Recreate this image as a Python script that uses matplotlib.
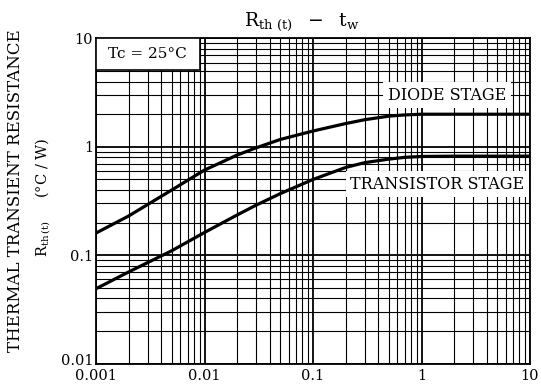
import matplotlib
matplotlib.use("Agg")
import matplotlib.pyplot as plt
from matplotlib.patches import Rectangle
from matplotlib.transforms import ScaledTranslation
from matplotlib.ticker import LogLocator, NullFormatter, FixedLocator, FixedFormatter

plt.rcParams["font.family"] = "DejaVu Serif"
plt.rcParams["mathtext.fontset"] = "dejavuserif"

# pulse width tw (s) and thermal transient resistance (°C/W)
tw = [0.001, 0.002, 0.005, 0.01, 0.02, 0.03, 0.05, 0.1, 0.2, 0.3, 0.5, 0.7, 1, 2, 5, 10]
rth_diode = [0.16, 0.23, 0.40, 0.61, 0.84, 0.98, 1.17, 1.40, 1.64, 1.78, 1.92, 1.97, 2.0, 2.0, 2.0, 2.0]
rth_transistor = [0.049, 0.07, 0.11, 0.162, 0.235, 0.29, 0.37, 0.50, 0.645, 0.715, 0.77, 0.80, 0.815, 0.82, 0.82, 0.82]

xticks = [0.001, 0.01, 0.1, 1, 10]
xlabels = ["0.001", "0.01", "0.1", "1", "10"]
yticks = [0.01, 0.1, 1, 10]
ylabels = ["0.01", "0.1", "1", "10"]

fig = plt.figure(figsize=(5.41, 3.89), dpi=100)
ax = fig.add_axes([96 / 541, 1 - 363.5 / 389, 434 / 541, 325 / 389])
ax.set_xscale("log")
ax.set_yscale("log")
ax.set_xlim(0.001, 10)
ax.set_ylim(0.01, 10)

ax.xaxis.set_major_locator(FixedLocator(xticks))
ax.xaxis.set_major_formatter(FixedFormatter(xlabels))
ax.yaxis.set_major_locator(FixedLocator(yticks))
ax.yaxis.set_major_formatter(FixedFormatter(ylabels))
for a in (ax.xaxis, ax.yaxis):
    a.set_minor_locator(LogLocator(base=10, subs=range(2, 10)))
    a.set_minor_formatter(NullFormatter())
ax.tick_params(which="both", length=0, labelsize=10.5)
ax.tick_params(axis="x", pad=4)
ax.tick_params(axis="y", pad=2)
ax.grid(which="major", color="black", lw=1.3)
ax.grid(which="minor", color="black", lw=0.8)
for s in ax.spines.values():
    s.set_linewidth(1.3)

# lift the bottom y label a little so it clears the 0.001 label
fig.canvas.draw()
low = ax.get_yticklabels()[0]
low.set_transform(low.get_transform() + ScaledTranslation(0, 3 / 72, fig.dpi_scale_trans))

ax.plot(tw, rth_diode, color="black", lw=2.3, zorder=3)
ax.plot(tw, rth_transistor, color="black", lw=2.3, zorder=3)

ax.add_patch(Rectangle((0, 0.903), 0.24, 0.097, transform=ax.transAxes,
                       facecolor="white", edgecolor="black", lw=1.2, zorder=4))
ax.text(0.118, 0.952, "Tc = 25°C", transform=ax.transAxes, ha="center", va="center",
        fontsize=11, zorder=5)
ax.text(0.808, 0.826, "DIODE STAGE", transform=ax.transAxes, ha="center", va="center",
        fontsize=11.5, zorder=5,
        bbox=dict(facecolor="white", edgecolor="none", pad=3.5))
ax.text(0.787, 0.552, "TRANSISTOR STAGE", transform=ax.transAxes, ha="center", va="center",
        fontsize=11.5, zorder=5,
        bbox=dict(facecolor="white", edgecolor="none", pad=3.5))

fig.text(302 / 541, 1 - 22 / 389, r"$\mathrm{R_{th\ (t)}}\ \ -\ \ \mathrm{t_w}$",
         ha="center", va="center", fontsize=13.5)
fig.text(16 / 541, 1 - 191 / 389, "THERMAL TRANSIENT RESISTANCE", rotation=90,
         ha="center", va="center", fontsize=12)
fig.text(43 / 541, 1 - 197 / 389, r"$\mathrm{R_{th\,(t)}}$     (°C / W)", rotation=90,
         ha="center", va="center", fontsize=10.5)

fig.savefig("out.png", dpi=100)
